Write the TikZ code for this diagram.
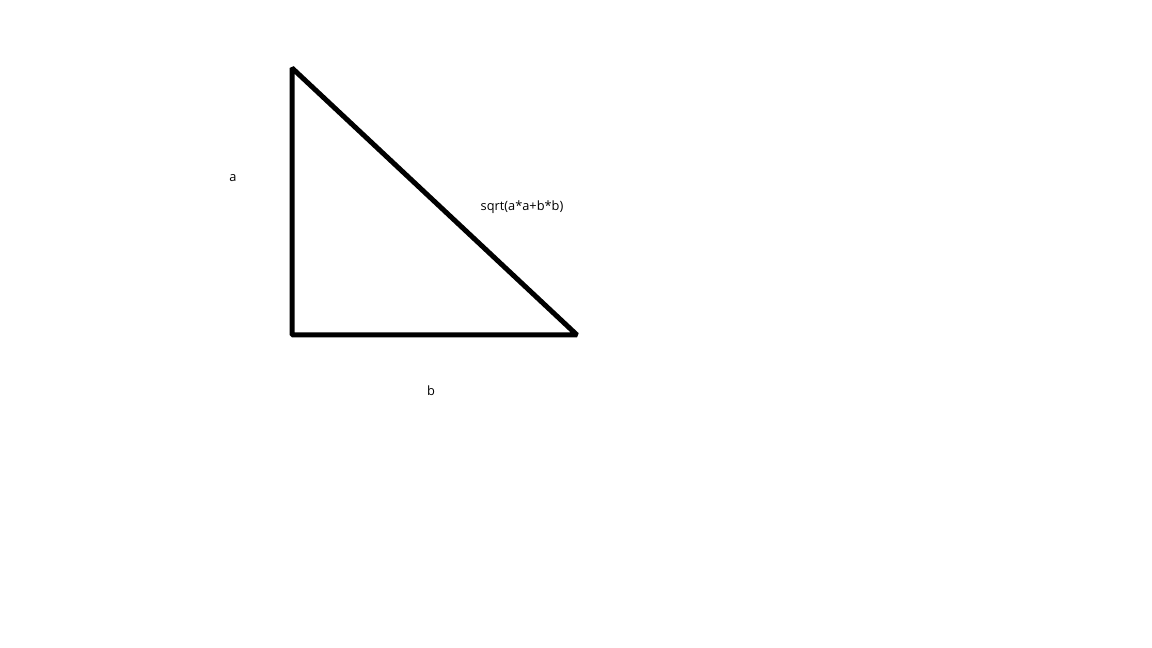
\documentclass[tikz,border=0pt]{standalone}
\usepackage{fontspec}
\setmainfont{Open Sans}
\begin{document}
\begin{tikzpicture}[x=1pt,y=1pt,
  side/.style={line width=5pt,line join=bevel,black},
  lbl/.style={font=\fontsize{12.8}{15}\selectfont,text=black,inner sep=0pt}]
\useasboundingbox (0,0) rectangle (1152,648);
\coordinate (T) at (292,580);
\coordinate (L) at (292,313);
\coordinate (R) at (577,313);
\draw[side] (T) -- (L) -- (R) -- cycle;
\node[lbl] (la) at (233,470) {a};
\node[lbl] (lc) at (522,441) {sqrt(a*a+b*b)};
\node[lbl] (lb) at (431,257) {b};
\end{tikzpicture}
\end{document}
